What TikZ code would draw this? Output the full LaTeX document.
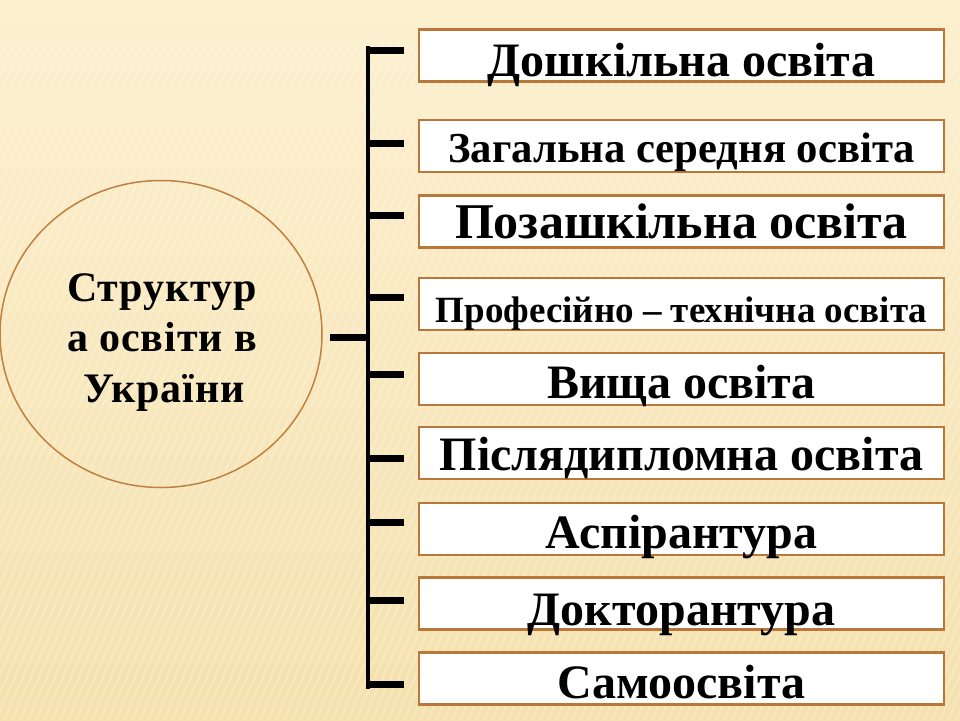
\documentclass[tikz,border=0pt]{standalone}
\usepackage{fontspec}
\setmainfont{Liberation Serif}
\usetikzlibrary{shapes.geometric}
\definecolor{bgtop}{HTML}{FCF0CF}
\definecolor{bgbot}{HTML}{F5E1AE}
\definecolor{boxline}{HTML}{B9773A}
\definecolor{circline}{HTML}{C0803F}
\tikzset{
  itembox/.style={draw=boxline, line width=2.5pt, fill=white, minimum width=525pt, minimum height=52pt, inner sep=0pt, text depth=0pt, text height=38pt, font=\bfseries\fontsize{48}{52}\selectfont, anchor=center},
  circtext/.style={anchor=base, inner sep=0pt, font=\bfseries\fontsize{42}{50}\selectfont\addfontfeatures{LetterSpace=2}},
  tick/.style={line width=7pt, black},
  trunk/.style={line width=4pt, black},
}
\begin{document}
\begin{tikzpicture}[x=1pt,y=-1pt]
\shade[top color=bgtop, bottom color=bgbot] (0,0) rectangle (960,720);
\useasboundingbox (0,0) rectangle (960,720);
% faint stripes
\begin{scope}
\clip (0,40) rectangle (960,720);
\foreach \i in {0,8,...,1400} {
  \draw[white, opacity=0.22, line width=2pt] (\i-300,720) -- (\i,40);
}
\end{scope}
% central circle
\node[draw=circline, line width=1.5pt, ellipse, minimum width=322pt, minimum height=307pt, inner sep=0pt] (c) at (161,334) {};
\node[circtext] (ct1) at (162,301) {Структур};
\node[circtext] (ct2) at (162,351) {а освіти в};
\node[circtext] (ct3) at (164,402) {України};
% boxes
\node[itembox, text height=41pt] (b1) at (681.5,55.5) {Дошкільна освіта};
\node[itembox, text height=32pt, font=\bfseries\fontsize{42.7}{46}\selectfont] (b2) at (681.5,146) {Загальна середня освіта};
\node[itembox, text height=33pt, font=\bfseries\fontsize{50}{54}\selectfont] (b3) at (681.5,221.5) {Позашкільна освіта};
\node[itembox, text height=36pt, font=\bfseries\fontsize{37}{40}\selectfont] (b4) at (681.5,304) {Професійно – технічна освіта};
\node[itembox] (b5) at (681.5,379) {Вища освіта};
\node[itembox, text height=34pt] (b6) at (681.5,453) {Післядипломна освіта};
\node[itembox] (b7) at (681.5,529) {Аспірантура};
\node[itembox, text height=43pt] (b8) at (681.5,603.5) {Докторантура};
\node[itembox, text height=39pt] (b9) at (681.5,678.5) {Самоосвіта};
% bracket
\coordinate (ttop) at (368,46);
\coordinate (tbot) at (368,689);
\draw[trunk] (ttop) -- (tbot);
\foreach \y/\n in {50/1,143/2,215/3,297/4,374/5,458/6,522/7,600/8,684/9} {
  \coordinate (s\n) at (366,\y);
  \coordinate (e\n) at (404,\y);
  \draw[tick] (s\n) -- (e\n);
}
\coordinate (cj) at (369,337);
\coordinate (ce) at (330,337);
\draw[tick] (ce) -- (cj);
\end{tikzpicture}
\end{document}
